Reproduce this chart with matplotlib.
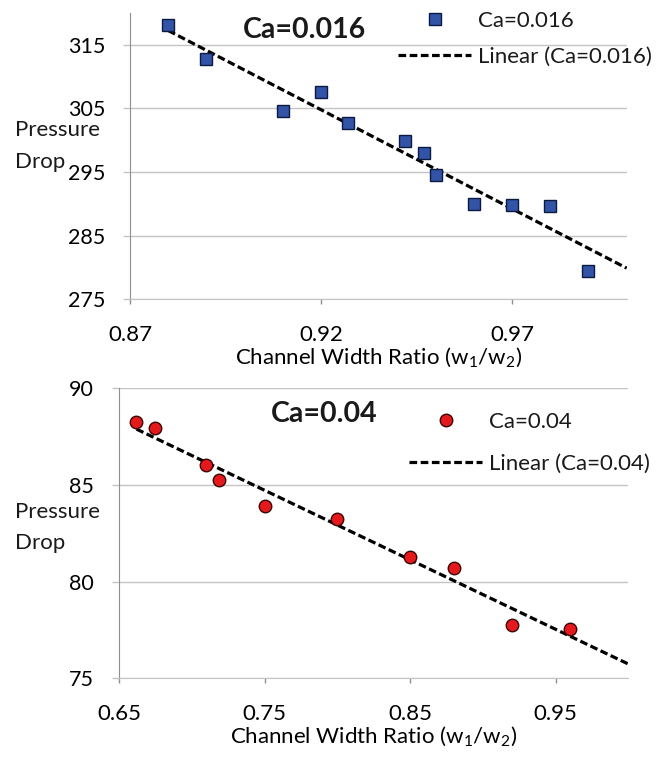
import numpy as np
import matplotlib.pyplot as plt

plt.rcParams['font.family'] = ['Lato', 'DejaVu Sans']
plt.rcParams['mathtext.fontset'] = 'custom'
plt.rcParams['mathtext.rm'] = 'Lato'
plt.rcParams['text.color'] = '#1a1a1a'

# Ca = 0.016
x_a = [0.880, 0.890, 0.910, 0.920, 0.927, 0.942, 0.947, 0.950, 0.960, 0.970, 0.980, 0.990]
y_a = [318.0, 312.8, 304.6, 307.5, 302.7, 299.9, 298.0, 294.5, 290.0, 289.8, 289.6, 279.5]
# Ca = 0.04
x_b = [0.662, 0.675, 0.710, 0.719, 0.750, 0.800, 0.850, 0.880, 0.920, 0.960]
y_b = [88.25, 87.95, 86.05, 85.25, 83.90, 83.25, 81.30, 80.70, 77.75, 77.55]

xticks_a = [0.87, 0.92, 0.97]
yticks_a = [275, 285, 295, 305, 315]
xticks_b = [0.65, 0.75, 0.85, 0.95]
yticks_b = [75, 80, 85, 90]

FS = 16
W, H = 660, 758


def style(ax, xticks, yticks, xlim, ylim):
    ax.set_xlim(xlim)
    ax.set_ylim(ylim)
    ax.set_xticks(xticks)
    ax.set_yticks(yticks)
    ax.set_xticklabels(['%.2f' % v for v in xticks])
    ax.yaxis.grid(True, color='#c4c4c4', lw=1)
    ax.set_axisbelow(True)
    for s in ['top', 'right']:
        ax.spines[s].set_visible(False)
    ax.spines['left'].set_color('#8f8f8f')
    ax.spines['bottom'].set_color('#c4c4c4')
    ax.tick_params(axis='y', length=5, width=1, color='#c4c4c4', pad=13, labelsize=15.5)
    ax.tick_params(axis='x', length=3.6, width=1, color='#8f8f8f', pad=15, labelsize=FS)
    ax.set_xlabel(r'Channel Width Ratio (w$_\mathregular{1}$/w$_\mathregular{2}$)',
                  fontsize=FS, labelpad=0.5)


def panel(ax, x, y, marker, face, edge, ms, label, xmax):
    x = np.array(x)
    k, b = np.polyfit(x, y, 1)
    xf = np.array([x.min(), xmax])
    ax.plot(x, y, linestyle='none', marker=marker, ms=ms, mfc=face, mec=edge,
            mew=1.0, label=label, zorder=3)
    ax.plot(xf, k * xf + b, color='black', lw=2.3, linestyle=(0, (2.4, 1.1)),
            label='Linear (%s)' % label, zorder=2)


def ylabel(y1, y2):
    # two-line horizontal "Pressure / Drop" label, baselines in pixels from top
    fig.text(15 / W, 1 - y1 / H, 'Pressure', ha='left', va='baseline', fontsize=FS)
    fig.text(15 / W, 1 - y2 / H, 'Drop', ha='left', va='baseline', fontsize=FS)


fig = plt.figure(figsize=(W / 100, H / 100), dpi=100)

ax1 = fig.add_axes([130 / W, 1 - 299.3 / H, 496.7 / W, 286.6 / H])
style(ax1, xticks_a, yticks_a, (0.87, 1.0), (275, 320))
panel(ax1, x_a, y_a, 's', '#3253a6', '#0d1a40', 8.2, 'Ca=0.016', 1.0)
ax1.text(0.352, 0.94, 'Ca=0.016', transform=ax1.transAxes, ha='center', va='center',
         fontsize=20.5, fontweight='bold')
ax1.legend(loc='upper left', bbox_to_anchor=(398 / W, 1 - 11 / H),
           bbox_transform=fig.transFigure, frameon=False, fontsize=FS,
           borderpad=0, borderaxespad=0, handlelength=3.3, handletextpad=0.3,
           labelspacing=0.7, numpoints=1)
ylabel(136, 168)

ax2 = fig.add_axes([119 / W, 1 - 678.3 / H, 509.3 / W, 290 / H])
style(ax2, xticks_b, yticks_b, (0.65, 1.0), (75, 90))
panel(ax2, x_b, y_b, 'o', '#e3191c', '#3a0505', 9, 'Ca=0.04', 1.0)
ax2.text(0.4025, 0.911, 'Ca=0.04', transform=ax2.transAxes, ha='center', va='center',
         fontsize=20.5, fontweight='bold')
ax2.legend(loc='upper left', bbox_to_anchor=(409 / W, 1 - 412 / H),
           bbox_transform=fig.transFigure, frameon=False, fontsize=FS,
           borderpad=0, borderaxespad=0, handlelength=3.3, handletextpad=0.3,
           labelspacing=0.98, numpoints=1)
ylabel(518, 549)

fig.savefig('out.png', dpi=100)
